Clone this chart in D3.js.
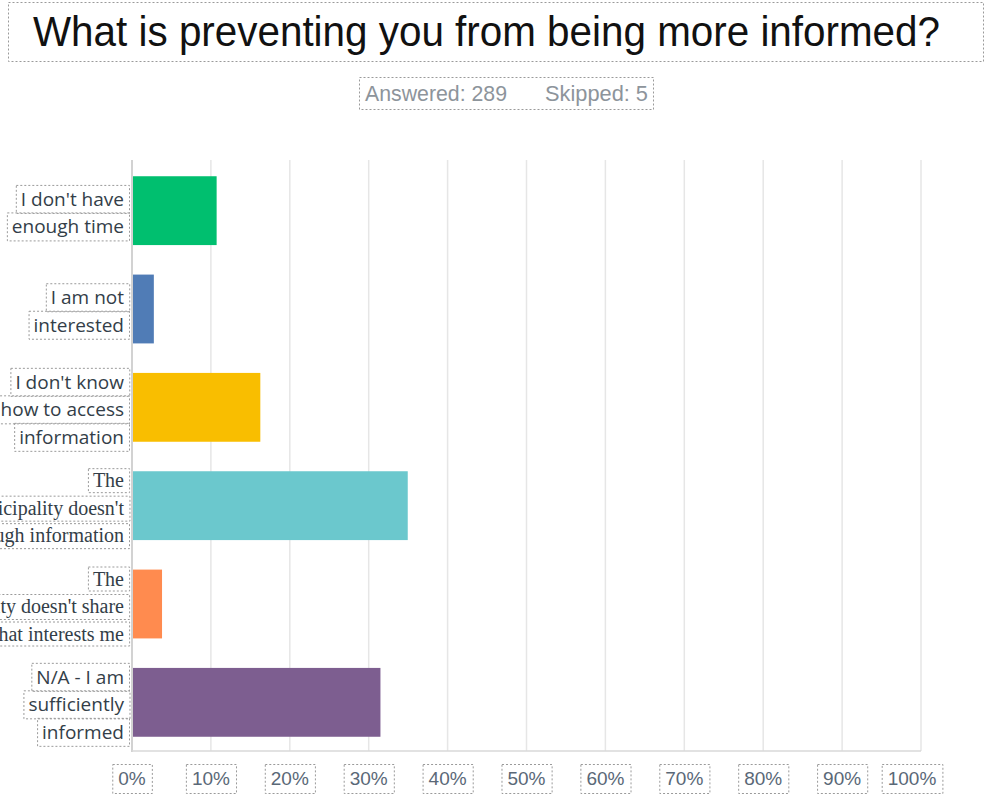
<!DOCTYPE html>
<html>
<head>
<meta charset="utf-8">
<script src="https://cdn.jsdelivr.net/npm/d3@7"></script>
<style>
  body { margin: 0; background: #fff; }
  svg { display: block; }
</style>
</head>
<body>
<svg id="chart" width="986" height="799"></svg>
<script>
// survey answers (289 answered), label lines as shown on the axis
const labels = [
    ["I don't have", "enough time"],
    ["I am not", "interested"],
    ["I don't know", "how to access", "information"],
    ["The", "municipality doesn't", "share enough information"],
    ["The", "municipality doesn't share", "information that interests me"],
    ["N/A - I am", "sufficiently", "informed"]
];
const counts = [31, 8, 47, 101, 11, 91];
const answered = 289, skipped = 5;
const pct = counts.map(c => c / answered * 100);
const colors = ["#00bf6f", "#507cb6", "#f9be00", "#6bc8cd", "#ff8b4f", "#7d5e90"];
const ticks = [0, 10, 20, 30, 40, 50, 60, 70, 80, 90, 100];
const serifRows = [3, 4];

const TITLE = "What is preventing you from being more informed?";
const DASH = "2,2", BOXC = "#9a9a9a";

var svg = d3.select('#chart');

function boxAround(sel, px, py) {
    sel.each(function() {
        var b = this.getBBox();
        d3.select(this.parentNode).insert('rect', () => this)
            .attr('x', b.x - px + .5).attr('y', b.y - py + .5)
            .attr('width', b.width + 2*px).attr('height', b.height + 2*py)
            .attr('fill', 'none').attr('stroke', BOXC)
            .attr('stroke-dasharray', DASH);
    });
}

// title + box
svg.append('rect')
    .attr('x', 8.5).attr('y', 2.5).attr('width', 975).attr('height', 59)
    .attr('fill', 'none').attr('stroke', BOXC).attr('stroke-dasharray', DASH);
svg.append('text')
    .attr('x', 33).attr('y', 46)
    .attr('font-family', 'Liberation Sans, Arial, sans-serif')
    .attr('font-size', 43)
    .attr('textLength', 907).attr('lengthAdjust', 'spacingAndGlyphs')
    .attr('fill', '#111')
    .text(TITLE);

// answered / skipped
var sub = svg.append('g');
sub.append('rect')
    .attr('x', 359.5).attr('y', 77.5).attr('width', 294).attr('height', 32)
    .attr('fill', 'none').attr('stroke', BOXC).attr('stroke-dasharray', DASH);
sub.append('text')
    .attr('x', 365).attr('y', 101)
    .attr('font-family', 'Liberation Sans, Arial, sans-serif')
    .attr('font-size', 22).attr('fill', '#8d949b')
    .attr('textLength', 142).attr('lengthAdjust', 'spacingAndGlyphs')
    .text('Answered: ' + answered);
sub.append('text')
    .attr('x', 545).attr('y', 101)
    .attr('font-family', 'Liberation Sans, Arial, sans-serif')
    .attr('font-size', 22).attr('fill', '#8d949b')
    .attr('textLength', 103).attr('lengthAdjust', 'spacingAndGlyphs')
    .text('Skipped: ' + skipped);

// scales
var x = d3.scaleLinear().domain([0, 100]).range([132, 921]);
var y = d3.scaleBand().domain(d3.range(labels.length))
    .range([160, 751]).paddingInner(0.3).paddingOuter(0.155);

// grid
svg.append('g').selectAll('line').data(ticks.slice(1)).join('line')
    .attr('x1', d => x(d)).attr('x2', d => x(d))
    .attr('y1', 160).attr('y2', 751)
    .attr('stroke', '#e6e6e6').attr('stroke-width', 1.5);

// bars
svg.append('g').selectAll('rect').data(pct).join('rect')
    .attr('x', x(0))
    .attr('y', (d, i) => y(i) + 1)
    .attr('width', d => x(d) - x(0))
    .attr('height', y.bandwidth())
    .attr('fill', (d, i) => colors[i]);

// axis lines
svg.append('line')
    .attr('x1', x(0)).attr('x2', x(0)).attr('y1', 160).attr('y2', 752)
    .attr('stroke', '#d2d2d2').attr('stroke-width', 2);
svg.append('line')
    .attr('x1', x(0)).attr('x2', x(100)).attr('y1', 751).attr('y2', 751)
    .attr('stroke', '#d8d8d8').attr('stroke-width', 1.5);

// x tick labels
var xt = svg.append('g').selectAll('g').data(ticks).join('g');
var xtText = xt.append('text')
    .attr('x', d => Math.min(x(d), 912))
    .attr('y', 785)
    .attr('text-anchor', 'middle')
    .attr('font-family', 'Liberation Sans, Arial, sans-serif')
    .attr('font-size', 19).attr('fill', '#5a6877')
    .text(d => d + '%');
boxAround(xtText, 6, 4);

// category labels
const LINE_H = 27.5;
labels.forEach(function(lines, i) {
    var cy = y(i) + y.bandwidth() / 2 + 3;
    var serif = serifRows.includes(i);
    var g = svg.append('g');
    var t = g.selectAll('text').data(lines).join('text')
        .attr('x', 124)
        .attr('y', (d, j) => cy + (j - (lines.length - 1) / 2) * LINE_H + 7)
        .attr('text-anchor', 'end')
        .attr('font-family', serif ? 'Liberation Serif, Times New Roman, serif' : 'Open Sans, sans-serif')
        .attr('font-size', serif ? 20 : 19)
        .attr('fill', '#333e48')
        .text(d => d);
    boxAround(t, 5, 1);
});
</script>
</body>
</html>
